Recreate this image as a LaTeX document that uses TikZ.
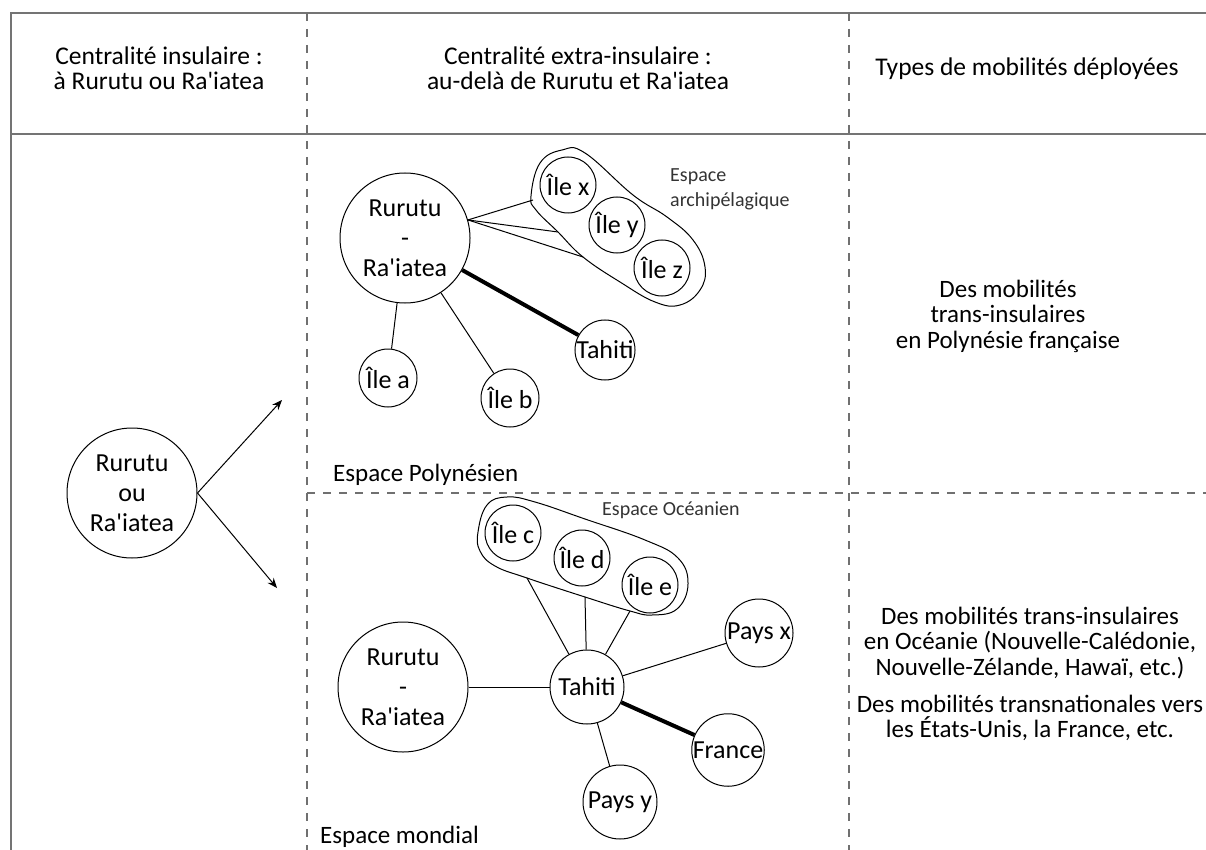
\documentclass[tikz,border=0pt]{standalone}
\usepackage{fontspec}
\setmainfont{Carlito}[Ligatures=TeXOff]
\usetikzlibrary{arrows.meta}
\definecolor{tblgray}{HTML}{747474}
\definecolor{dashgray}{HTML}{707070}
\begin{document}
\begin{tikzpicture}[x=1pt,y=-1pt,
  tbl/.style={draw=tblgray,line width=2pt},
  dsh/.style={draw=dashgray,line width=1.6pt,dash pattern=on 8pt off 8pt},
  isle/.style={draw,circle,line width=1pt,inner sep=0pt,align=center,font=\fontsize{26}{30}\selectfont},
  lnk/.style={draw,line width=1pt},
  strong/.style={draw,line width=4pt},
  hdr/.style={align=center,inner sep=0pt,font=\fontsize{25.5}{25}\selectfont},
  rtxt/.style={align=center,inner sep=0pt,font=\fontsize{25}{25.5}\selectfont},
  zone/.style={inner sep=0pt,font=\fontsize{25}{25}\selectfont,anchor=west},
  small/.style={inner sep=0pt,align=left,text=black!80,font=\fontsize{20}{25}\selectfont,anchor=west},
  blob/.style={draw,line width=1pt,smooth cycle,tension=0.7},
  arr/.style={draw,line width=1pt,-{Stealth[length=10pt,width=8pt]}}
]
\useasboundingbox (0,0) rectangle (1206,850);
% table frame
\draw[tbl] (11,850) -- (11,13) -- (1206,13);
\draw[tbl] (11,134) -- (1206,134);
\draw[dsh] (307,13) -- (307,850);
\draw[dsh] (849,13) -- (849,850);
\draw[dsh] (307,493) -- (1206,493);

% headers
\node[hdr] (h1) at (159,68) {Centralité insulaire :\\à Rurutu ou Ra'iatea};
\node[hdr] (h2) at (578,68) {Centralité extra-insulaire :\\au-delà de Rurutu et Ra'iatea};
\node[hdr] (h3) at (1027,69) {Types de mobilités déployées};

% left column
\node[isle,minimum size=130pt] (lc) at (132,493) {Rurutu\\ou\\Ra'iatea};
\coordinate (up) at (282,400);
\coordinate (down) at (277,588);
\draw[arr] (lc.east) -- (up);
\draw[arr] (lc.east) -- (down);

% upper section: Polynesian space
\node[isle,minimum size=130pt] (rr1) at (405,238) {Rurutu\\-\\Ra'iatea};
\node[isle,minimum size=56pt] (ix) at (568,185) {Île x};
\node[isle,minimum size=56pt] (iy) at (617,225) {Île y};
\node[isle,minimum size=56pt] (iz) at (662,268) {Île z};
\node[isle,minimum size=59pt] (th1) at (605,350) {Tahiti};
\node[isle,minimum size=58pt] (ia) at (388,378) {Île a};
\node[isle,minimum size=58pt] (ib) at (510,398) {Île b};
\draw[blob] plot coordinates {(531,196) (540,163) (562,150) (585,153) (633,195) (667,217) (693,240) (705,267) (700,290) (680,305) (655,302) (620,282) (583,257) (558,232) (536,210)};
\coordinate (a1) at (533,200);
\coordinate (a2) at (558,232);
\coordinate (a3) at (583,257);
\draw[lnk] (rr1.16) -- (a1);
\draw[lnk] (rr1.16) -- (a2);
\draw[lnk] (rr1.16) -- (a3);
\draw[strong] (rr1) -- (th1);
\draw[lnk] (rr1) -- (ia);
\draw[lnk] (rr1) -- (ib);
\node[small] (lba) at (670,189) {Espace\\archipélagique};
\node[zone] (lbp) at (333,475) {Espace Polynésien};

% lower section: world space
\node[isle,minimum size=130pt] (rr2) at (403,687) {Rurutu\\-\\Ra'iatea};
\node[isle,minimum size=74pt] (th2) at (587,687) {Tahiti};
\node[isle,minimum size=56pt] (ic) at (513,533) {Île c};
\node[isle,minimum size=56pt] (id) at (582,558) {Île d};
\node[isle,minimum size=56pt] (ie) at (650,585) {Île e};
\node[isle,minimum size=68pt] (px) at (759,633) {Pays x};
\node[isle,minimum size=70pt] (fr) at (728,750) {France};
\node[isle,minimum size=74pt] (py) at (620,802) {Pays y};
\draw[blob] plot coordinates {(478,532) (487,505) (507,497) (535,502) (585,519) (645,540) (678,558) (688,584) (677,609) (652,615) (630,611) (585,597) (527,578) (495,566) (480,551)};
\coordinate (o1) at (527,578);
\coordinate (o2) at (585,597);
\coordinate (o3) at (630,611);
\draw[lnk] (th2) -- (o1);
\draw[lnk] (th2) -- (o2);
\draw[lnk] (th2) -- (o3);
\draw[lnk] (rr2) -- (th2);
\draw[lnk] (th2) -- (px);
\draw[strong] (th2) -- (fr);
\draw[lnk] (th2) -- (py);
\node[small] (lbo) at (602,510) {Espace Océanien};
\node[zone] (lbm) at (320,837) {Espace mondial};

% right column
\node[rtxt] (m1) at (1008,316) {Des mobilités\\trans-insulaires\\en Polynésie française};
\node[rtxt] (m2) at (1030,643) {Des mobilités trans-insulaires\\en Océanie (Nouvelle-Calédonie,\\Nouvelle-Zélande, Hawaï, etc.)};
\node[rtxt] (m3) at (1030,718) {Des mobilités transnationales vers\\les États-Unis, la France, etc.};
\end{tikzpicture}
\end{document}
